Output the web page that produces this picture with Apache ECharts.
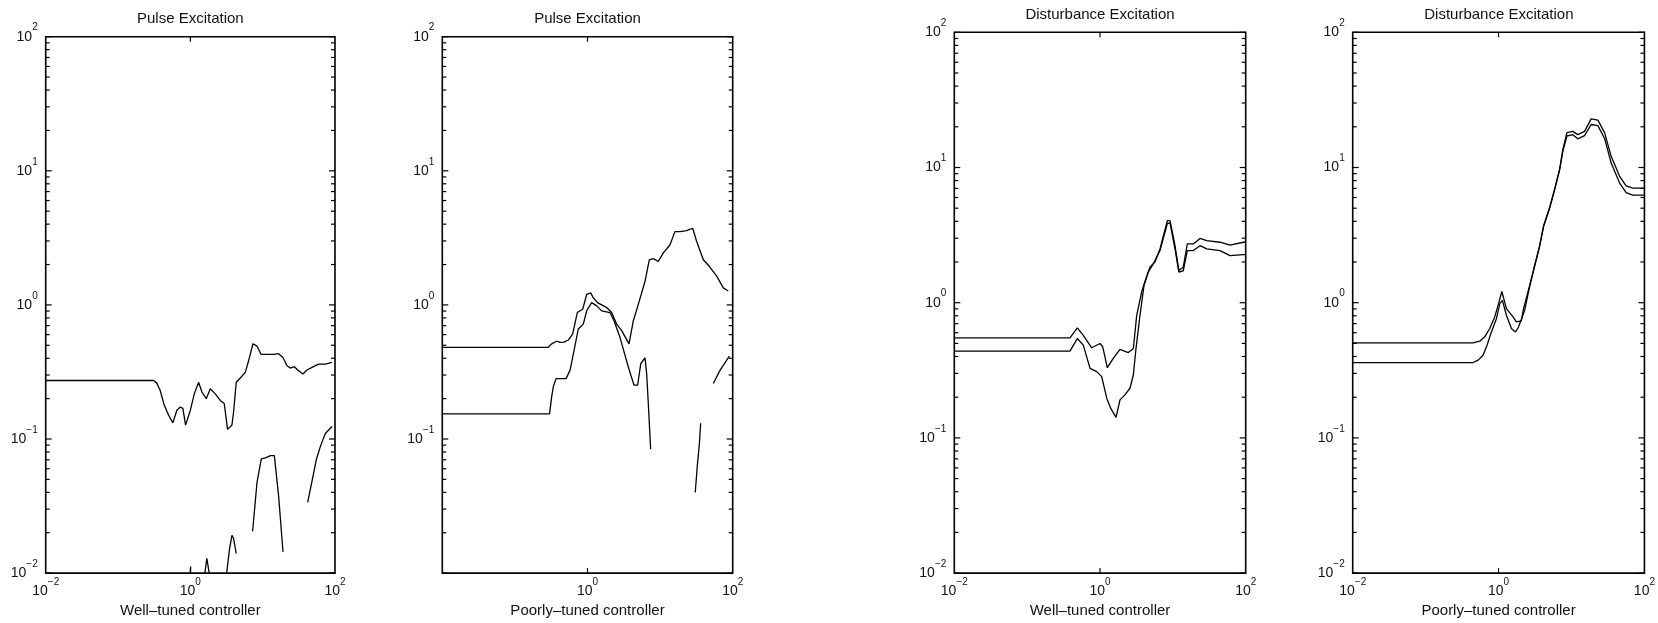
<!DOCTYPE html>
<html>
<head>
<meta charset="utf-8">
<script src="https://cdn.jsdelivr.net/npm/echarts@6.0.0/dist/echarts.min.js"></script>
<style>
  html, body { margin: 0; padding: 0; background: #fff; }
  #chart { width: 1658px; height: 623px; }
</style>
</head>
<body>
<div id="chart"></div>
<script>
// axis decades and minor steps (log axes, 10^-2 .. 10^2)
const decades = [0.01, 0.1, 1, 10, 100];
const minorSteps = [2, 3, 4, 5, 6, 7, 8, 9];

// panel 1 : pulse excitation, well-tuned
const p1Upper = [[0.01,0.273],[0.31,0.273],[0.344,0.261],[0.383,0.230],[0.435,0.179],[0.499,0.151],[0.573,0.132],
  [0.651,0.164],[0.724,0.173],[0.788,0.169],[0.859,0.127],[1.0,0.164],[1.133,0.217],[1.30,0.265],[1.446,0.224],
  [1.66,0.200],[1.885,0.237],[2.21,0.217],[2.59,0.194],[2.94,0.184],[3.27,0.118],[3.76,0.127],[3.96,0.159],
  [4.31,0.265],[5.01,0.289],[5.75,0.314],[6.39,0.383],[7.34,0.513],[8.34,0.493],[9.47,0.428],[11.5,0.428],
  [14.2,0.428],[16.6,0.433],[19.1,0.405],[21.7,0.352],[24.1,0.338],[27.4,0.346],[30.5,0.327],[36.1,0.305],
  [41.0,0.327],[48.1,0.342],[59.5,0.362],[73.6,0.362],[91.0,0.372]];
const p1LowA = [[1.0,0.009],[1.01,0.0112]];
const p1LowB = [[1.55,0.009],[1.69,0.0129],[1.88,0.009]];
const p1LowC = [[3.1,0.009],[3.49,0.0153],[3.76,0.0191],[3.96,0.0181],[4.31,0.014]];
const p1LowD = [[7.26,0.0205],[8.34,0.0473],[9.57,0.0711],[10.9,0.0723],[12.8,0.0752],[14.5,0.0752],[16.6,0.0377],[19.1,0.0144]];
const p1LowE = [[41.9,0.0337],[48.1,0.0486],[55.2,0.0703],[62.8,0.0881],[73.6,0.110],[91.0,0.124]];

// panel 2 : pulse excitation, poorly-tuned
const p2Upper = [[0.01,0.483],[0.288,0.483],[0.321,0.512],[0.377,0.536],[0.418,0.525],[0.474,0.527],[0.545,0.547],
  [0.625,0.607],[0.724,0.877],[0.859,0.927],[0.975,1.20],[1.107,1.23],[1.20,1.13],[1.37,1.04],[1.84,0.955],
  [2.15,0.877],[2.52,0.719],[2.96,0.643],[3.73,0.512],[4.28,0.762],[5.01,1.01],[6.20,1.50],[7.10,2.17],[8.06,2.21],
  [9.44,2.11],[11.1,2.44],[13.7,2.81],[16.0,3.52],[18.8,3.52],[23.2,3.58],[28.1,3.73],[31.9,2.97],[39.4,2.17],
  [47.6,1.94],[60.2,1.64],[74.2,1.34],[86.9,1.27]];
const p2Lower = [[0.01,0.154],[0.30,0.154],[0.321,0.207],[0.338,0.245],[0.368,0.282],[0.418,0.282],[0.506,0.282],
  [0.574,0.325],[0.652,0.457],[0.746,0.661],[0.875,0.719],[0.975,0.904],[1.14,1.04],[1.34,0.984],[1.57,0.903],
  [2.04,0.877],[2.32,0.762],[2.80,0.573],[3.65,0.344],[4.37,0.252],[4.91,0.252],[5.41,0.364],[6.20,0.403],
  [6.53,0.307],[6.88,0.184],[7.41,0.084]];
const p2LowB = [[30.5,0.040],[32.5,0.0627],[34.7,0.091],[36.2,0.131]];
const p2LowC = [[54.1,0.259],[66.8,0.325],[90,0.415]];

// panel 3 : disturbance excitation, well-tuned
const p3Upper = [[0.01,0.55],[0.387,0.55],[0.488,0.652],[0.590,0.574],[0.769,0.464],[1.0,0.499],[1.09,0.472],
  [1.26,0.331],[1.52,0.387],[1.88,0.451],[2.45,0.428],[2.87,0.458],[3.19,0.805],[3.73,1.20],[4.28,1.52],[4.85,1.83],
  [5.69,2.01],[6.66,2.50],[8.40,4.04],[9.14,4.04],[10.7,2.64],[12.1,1.73],[13.9,1.83],[15.8,2.72],[19.1,2.72],
  [23.6,2.99],[29.2,2.88],[44.4,2.80],[60.9,2.67],[92.7,2.80],[100,2.80]];
const p3Lower = [[0.01,0.438],[0.387,0.438],[0.488,0.543],[0.590,0.485],[0.730,0.327],[0.901,0.309],[1.055,0.284],
  [1.24,0.196],[1.40,0.166],[1.66,0.142],[1.88,0.191],[2.20,0.208],[2.58,0.233],[2.87,0.292],[3.12,0.458],
  [3.54,0.805],[4.02,1.34],[4.60,1.68],[5.40,1.94],[6.66,2.43],[8.40,3.85],[9.14,3.90],[10.7,2.50],[12.1,1.68],
  [13.9,1.72],[15.8,2.43],[19.1,2.43],[23.6,2.64],[29.2,2.50],[44.4,2.43],[60.9,2.23],[92.7,2.27],[100,2.27]];

// panel 4 : disturbance excitation, poorly-tuned
const p4Upper = [[0.01,0.505],[0.447,0.505],[0.552,0.519],[0.646,0.559],[0.757,0.644],[0.886,0.785],[0.984,0.955],
  [1.11,1.21],[1.28,0.904],[1.58,0.785],[1.75,0.721],[2.05,0.735],[2.2,0.904],[2.67,1.34],[3.12,1.88],[3.66,2.64],
  [4.15,3.71],[5.01,5.06],[5.87,6.90],[6.87,9.69],[7.62,13.6],[8.65,18.1],[10.4,18.5],[12.2,17.5],[15.1,18.5],
  [18.6,22.9],[23.0,22.4],[28.4,18.1],[35.0,12.1],[45.5,8.65],[56.1,7.30],[69.2,7.03],[100,7.03]];
const p4Lower = [[0.01,0.361],[0.447,0.361],[0.524,0.376],[0.612,0.409],[0.695,0.485],[0.798,0.608],[0.934,0.762],
  [1.04,0.985],[1.13,1.04],[1.28,0.807],[1.50,0.644],[1.70,0.608],[1.85,0.65],[2.05,0.75],[2.28,0.88],[2.67,1.32],
  [3.12,1.86],[3.66,2.62],[4.15,3.68],[5.01,5.0],[5.87,6.85],[6.87,9.6],[7.62,13.2],[8.65,17.1],[10.4,17.5],
  [12.2,16.3],[15.1,17.2],[18.6,20.8],[23.0,20.4],[28.4,16.4],[35.0,10.8],[45.5,7.7],[56.1,6.53],[69.2,6.24],[100,6.24]];

const titles = ['Pulse Excitation', 'Pulse Excitation', 'Disturbance Excitation', 'Disturbance Excitation'];
const xNames = ['Well–tuned controller', 'Poorly–tuned controller', 'Well–tuned controller', 'Poorly–tuned controller'];
const curves = [
  [p1Upper, p1LowA, p1LowB, p1LowC, p1LowD, p1LowE],
  [p2Upper, p2Lower, p2LowB, p2LowC],
  [p3Upper, p3Lower],
  [p4Upper, p4Lower]
];

const panels = [
  { left: 45.7, top: 36.7, width: 289.3, height: 541.3, titleTop: 11, hideLow: false },
  { left: 442.3, top: 36.7, width: 290.4, height: 541.3, titleTop: 11, hideLow: true },
  { left: 954.3, top: 32.3, width: 291.4, height: 543.4, titleTop: 7, hideLow: false },
  { left: 1352.7, top: 32.3, width: 292.3, height: 543.4, titleTop: 7, hideLow: false }
];

const FONT = 'Liberation Sans';
const rich = {
  b: { fontSize: 14, fontFamily: FONT, color: '#111', lineHeight: 28 },
  s: { fontSize: 10, fontFamily: FONT, color: '#111', lineHeight: 10, verticalAlign: 'top' }
};

function powLabel(v) {
  const e = Math.round(Math.log10(v));
  return '{b|10}{s|' + (e < 0 ? '−' + (-e) : e) + '}';
}

// tick marks: [x, y, side, length]; side 0 left, 1 right, 2 bottom, 3 top
const tickData = [];
decades.forEach(function (d, k) {
  tickData.push([0.01, d, 0, 6], [100, d, 1, 6]);
  if (k < decades.length - 1) {
    minorSteps.forEach(function (m) {
      tickData.push([0.01, d * m, 0, 4], [100, d * m, 1, 4]);
    });
  }
});
tickData.push([1, 0.01, 2, 5], [1, 100, 3, 5]);

function renderTick(params, api) {
  const p = api.coord([api.value(0), api.value(1)]);
  const side = api.value(2), len = api.value(3);
  let dx = 0, dy = 0;
  if (side === 0) dx = len; else if (side === 1) dx = -len; else if (side === 2) dy = -len; else dy = len;
  return {
    type: 'line',
    shape: { x1: p[0], y1: p[1], x2: p[0] + dx, y2: p[1] + dy },
    style: { stroke: '#000', lineWidth: 1.2 }
  };
}

var option = {
  animation: false,
  backgroundColor: '#fff',
  title: [],
  grid: [],
  xAxis: [],
  yAxis: [],
  series: []
};

panels.forEach(function (p, i) {
  option.title.push({
    text: titles[i],
    left: p.left + p.width / 2,
    top: p.titleTop,
    textAlign: 'center',
    padding: 0,
    textStyle: { fontSize: 15, fontWeight: 'normal', fontFamily: FONT, color: '#111' }
  });
  option.grid.push({
    left: p.left, top: p.top, width: p.width, height: p.height,
    show: true, borderColor: '#000', borderWidth: 1.6, backgroundColor: 'transparent'
  });
  option.xAxis.push({
    type: 'log', logBase: 10, gridIndex: i, min: 0.01, max: 100,
    axisLine: { show: false }, axisTick: { show: false }, splitLine: { show: false },
    axisLabel: {
      margin: 4, showMinLabel: true, showMaxLabel: true, rich: rich,
      formatter: function (v) {
        const e = Math.round(Math.log10(v));
        if (e % 2 !== 0 || (p.hideLow && e === -2)) return '';
        return powLabel(v);
      }
    },
    name: xNames[i], nameLocation: 'middle', nameGap: 28,
    nameTextStyle: { fontSize: 15, fontFamily: FONT, color: '#111' }
  });
  option.yAxis.push({
    type: 'log', logBase: 10, gridIndex: i, min: 0.01, max: 100,
    axisLine: { show: false }, axisTick: { show: false }, splitLine: { show: false },
    axisLabel: {
      margin: 8, showMinLabel: true, showMaxLabel: true, rich: rich,
      formatter: function (v) {
        const e = Math.round(Math.log10(v));
        if (p.hideLow && e === -2) return '';
        return powLabel(v);
      }
    }
  });
  curves[i].forEach(function (c) {
    option.series.push({
      type: 'line', xAxisIndex: i, yAxisIndex: i, data: c,
      symbol: 'none', silent: true, clip: true,
      lineStyle: { color: '#000', width: 1.3 }
    });
  });
  option.series.push({
    type: 'custom', xAxisIndex: i, yAxisIndex: i, data: tickData,
    encode: { x: 0, y: 1 }, renderItem: renderTick, silent: true, clip: false
  });
});

var chartDom = document.getElementById('chart');
var myChart = echarts.init(chartDom);
option && myChart.setOption(option);
</script>
</body>
</html>
